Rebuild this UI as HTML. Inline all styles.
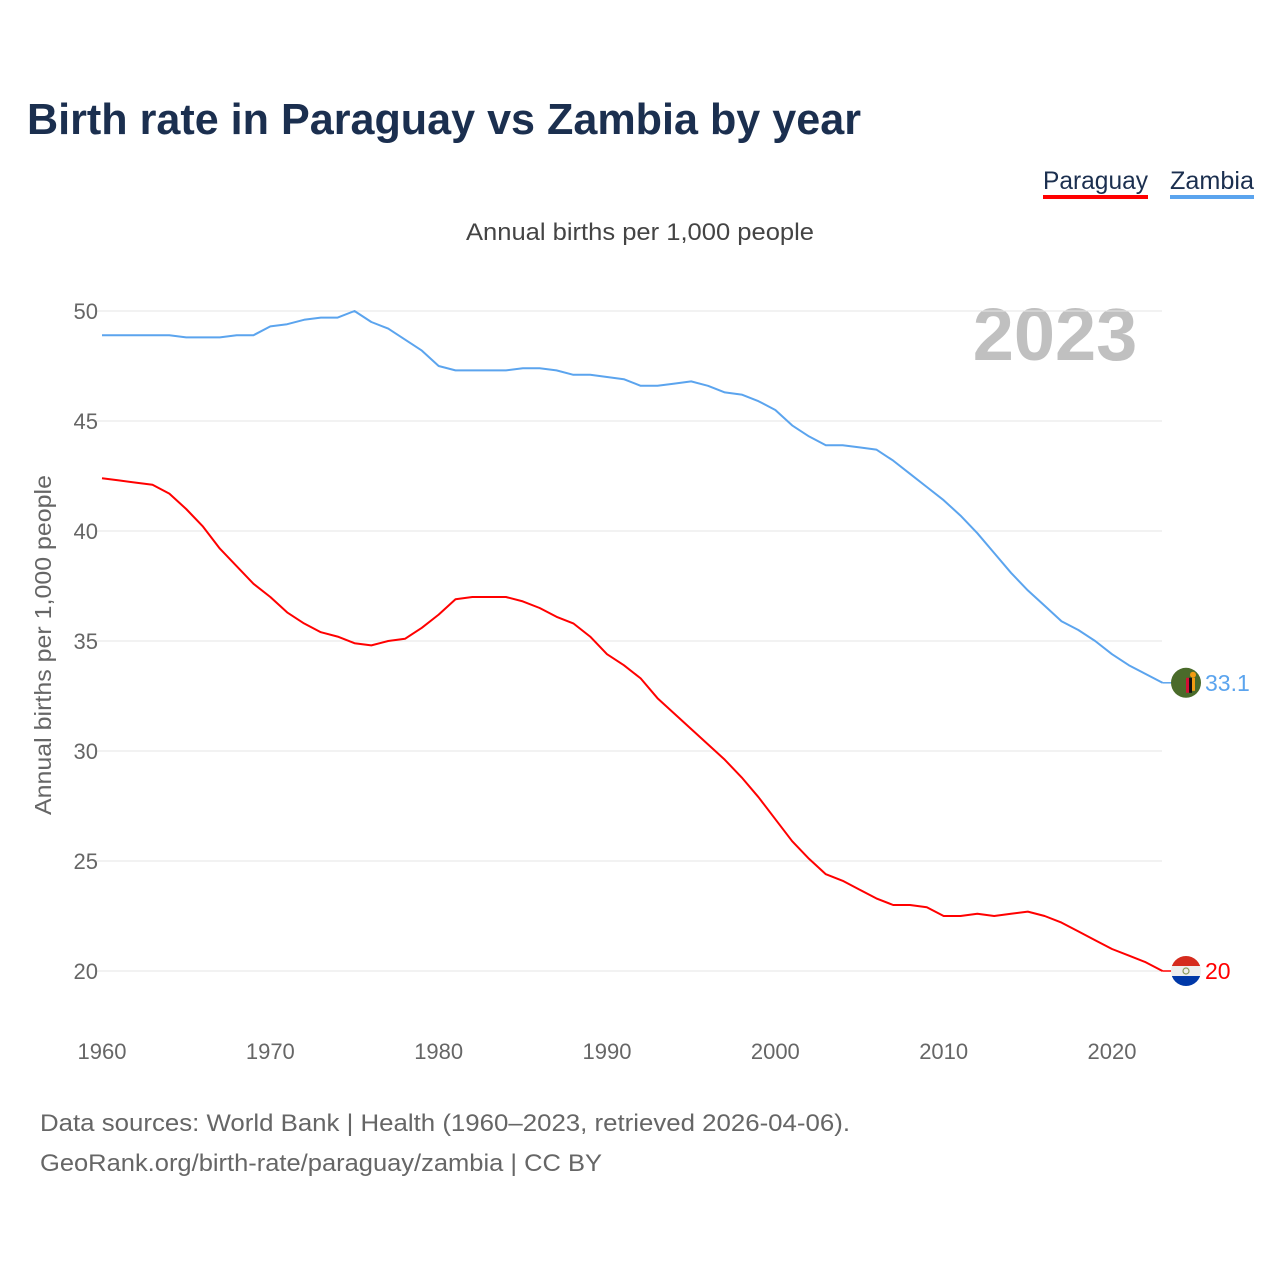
<!DOCTYPE html>
<html><head><meta charset="utf-8"><style>
body{margin:0;width:1280px;height:1280px;background:#fff;font-family:"Liberation Sans",sans-serif;overflow:hidden}
</style></head><body>
<svg id="chart" width="1280" height="1280" xmlns="http://www.w3.org/2000/svg">
<text x="27" y="134" font-size="44" font-weight="bold" fill="#1b2f4f" textLength="834" lengthAdjust="spacingAndGlyphs">Birth rate in Paraguay vs Zambia by year</text>
<g><text x="1043" y="189" font-size="25" fill="#1b2f4f" textLength="105" lengthAdjust="spacingAndGlyphs">Paraguay</text><rect x="1043" y="195" width="105" height="4" fill="#ff0000"/></g>
<g><text x="1170" y="189" font-size="25" fill="#1b2f4f" textLength="84" lengthAdjust="spacingAndGlyphs">Zambia</text><rect x="1170" y="195" width="84" height="4" fill="#5ba4ee"/></g>
<text x="466" y="240" font-size="24" fill="#444" textLength="348" lengthAdjust="spacingAndGlyphs">Annual births per 1,000 people</text>
<text x="1055" y="360" font-size="74" font-weight="bold" fill="#c0c0c0" text-anchor="middle">2023</text>
<text transform="translate(51,815) rotate(-90)" font-size="23" fill="#666" textLength="340" lengthAdjust="spacingAndGlyphs">Annual births per 1,000 people</text>
<g id="grid"></g><g id="lines"></g>
<text x="40" y="1131" font-size="24" fill="#666" textLength="810" lengthAdjust="spacingAndGlyphs">Data sources: World Bank | Health (1960–2023, retrieved 2026-04-06).</text>
<text x="40" y="1171" font-size="24" fill="#666" textLength="562" lengthAdjust="spacingAndGlyphs">GeoRank.org/birth-rate/paraguay/zambia | CC BY</text>
</svg>
<script>
const years=[];for(let y=1960;y<=2023;y++)years.push(y);
const yTicks=[20,25,30,35,40,45,50];
const xTicks=[1960,1970,1980,1990,2000,2010,2020];
const zambia=[48.9,48.9,48.9,48.9,48.9,48.8,48.8,48.8,48.9,48.9,49.3,49.4,49.6,49.7,49.7,50.0,49.5,49.2,48.7,48.2,47.5,47.3,47.3,47.3,47.3,47.4,47.4,47.3,47.1,47.1,47.0,46.9,46.6,46.6,46.7,46.8,46.6,46.3,46.2,45.9,45.5,44.8,44.3,43.9,43.9,43.8,43.7,43.2,42.6,42.0,41.4,40.7,39.9,39.0,38.1,37.3,36.6,35.9,35.5,35.0,34.4,33.9,33.5,33.1];
const paraguay=[42.4,42.3,42.2,42.1,41.7,41.0,40.2,39.2,38.4,37.6,37.0,36.3,35.8,35.4,35.2,34.9,34.8,35.0,35.1,35.6,36.2,36.9,37.0,37.0,37.0,36.8,36.5,36.1,35.8,35.2,34.4,33.9,33.3,32.4,31.7,31.0,30.3,29.6,28.8,27.9,26.9,25.9,25.1,24.4,24.1,23.7,23.3,23.0,23.0,22.9,22.5,22.5,22.6,22.5,22.6,22.7,22.5,22.2,21.8,21.4,21.0,20.7,20.4,20.0];
const X=y=>102+(y-1960)*(1010/60);
const Y=v=>971-(v-20)*22;
const NS='http://www.w3.org/2000/svg';
function mk(tag,attrs,parent){const e=document.createElementNS(NS,tag);for(const k in attrs)e.setAttribute(k,attrs[k]);parent.appendChild(e);return e;}
const grid=document.getElementById('grid'),lines=document.getElementById('lines');
yTicks.forEach(t=>{
 const l=mk('line',{x1:95,x2:1162,y1:Y(t),y2:Y(t),stroke:'#e6e6e6','stroke-width':1},grid);
 
 
 const tx=mk('text',{x:98,y:Y(t)+8,'font-size':22,fill:'#666','text-anchor':'end'},grid);tx.textContent=t;
 
 
});
xTicks.forEach(t=>{
 const tx=mk('text',{x:X(t),y:1059,'font-size':22,fill:'#666','text-anchor':'middle'},grid);tx.textContent=t;
 
 
});
function series(vals,color,name){
 const p=mk('polyline',{points:vals.map((v,i)=>X(years[i])+','+Y(v)).join(' '),fill:'none',stroke:color,'stroke-width':2,'stroke-linejoin':'round'},lines);
 
 
 const last=vals[vals.length-1],ly=Y(last);
 mk('line',{x1:X(2023),x2:1175,y1:ly,y2:ly,stroke:color,'stroke-width':1.5},lines);
 const lb=mk('text',{x:1205,y:ly+8,'font-size':23,fill:color},lines);lb.textContent=last;
 
 
 return ly;
}
const zy=series(zambia,'#5ba4ee','zambia');
const py=series(paraguay,'#ff0000','paraguay');
const zf=mk('g',{},lines);


mk('circle',{cx:1186,cy:zy,r:15,fill:'#4a6b2a'},zf);
mk('rect',{x:1186,y:zy-5,width:3,height:15,fill:'#d21034'},zf);
mk('rect',{x:1189,y:zy-5,width:3,height:15,fill:'#111'},zf);
mk('rect',{x:1192,y:zy-5,width:3,height:13,fill:'#f39c12'},zf);
mk('circle',{cx:1193,cy:zy-8,r:3,fill:'#f39c12'},zf);
const pf=mk('g',{},lines);


const cp=mk('clipPath',{id:'pc'},pf);mk('circle',{cx:1186,cy:py,r:15},cp);
const pg=mk('g',{'clip-path':'url(#pc)'},pf);
mk('rect',{x:1170,y:py-15,width:32,height:10,fill:'#d52b1e'},pg);
mk('rect',{x:1170,y:py-5,width:32,height:10,fill:'#eee'},pg);
mk('rect',{x:1170,y:py+5,width:32,height:10,fill:'#0038a8'},pg);
mk('circle',{cx:1186,cy:py,r:3,fill:'none',stroke:'#8a9a5b','stroke-width':1.2},pg);
</script>
</body></html>
